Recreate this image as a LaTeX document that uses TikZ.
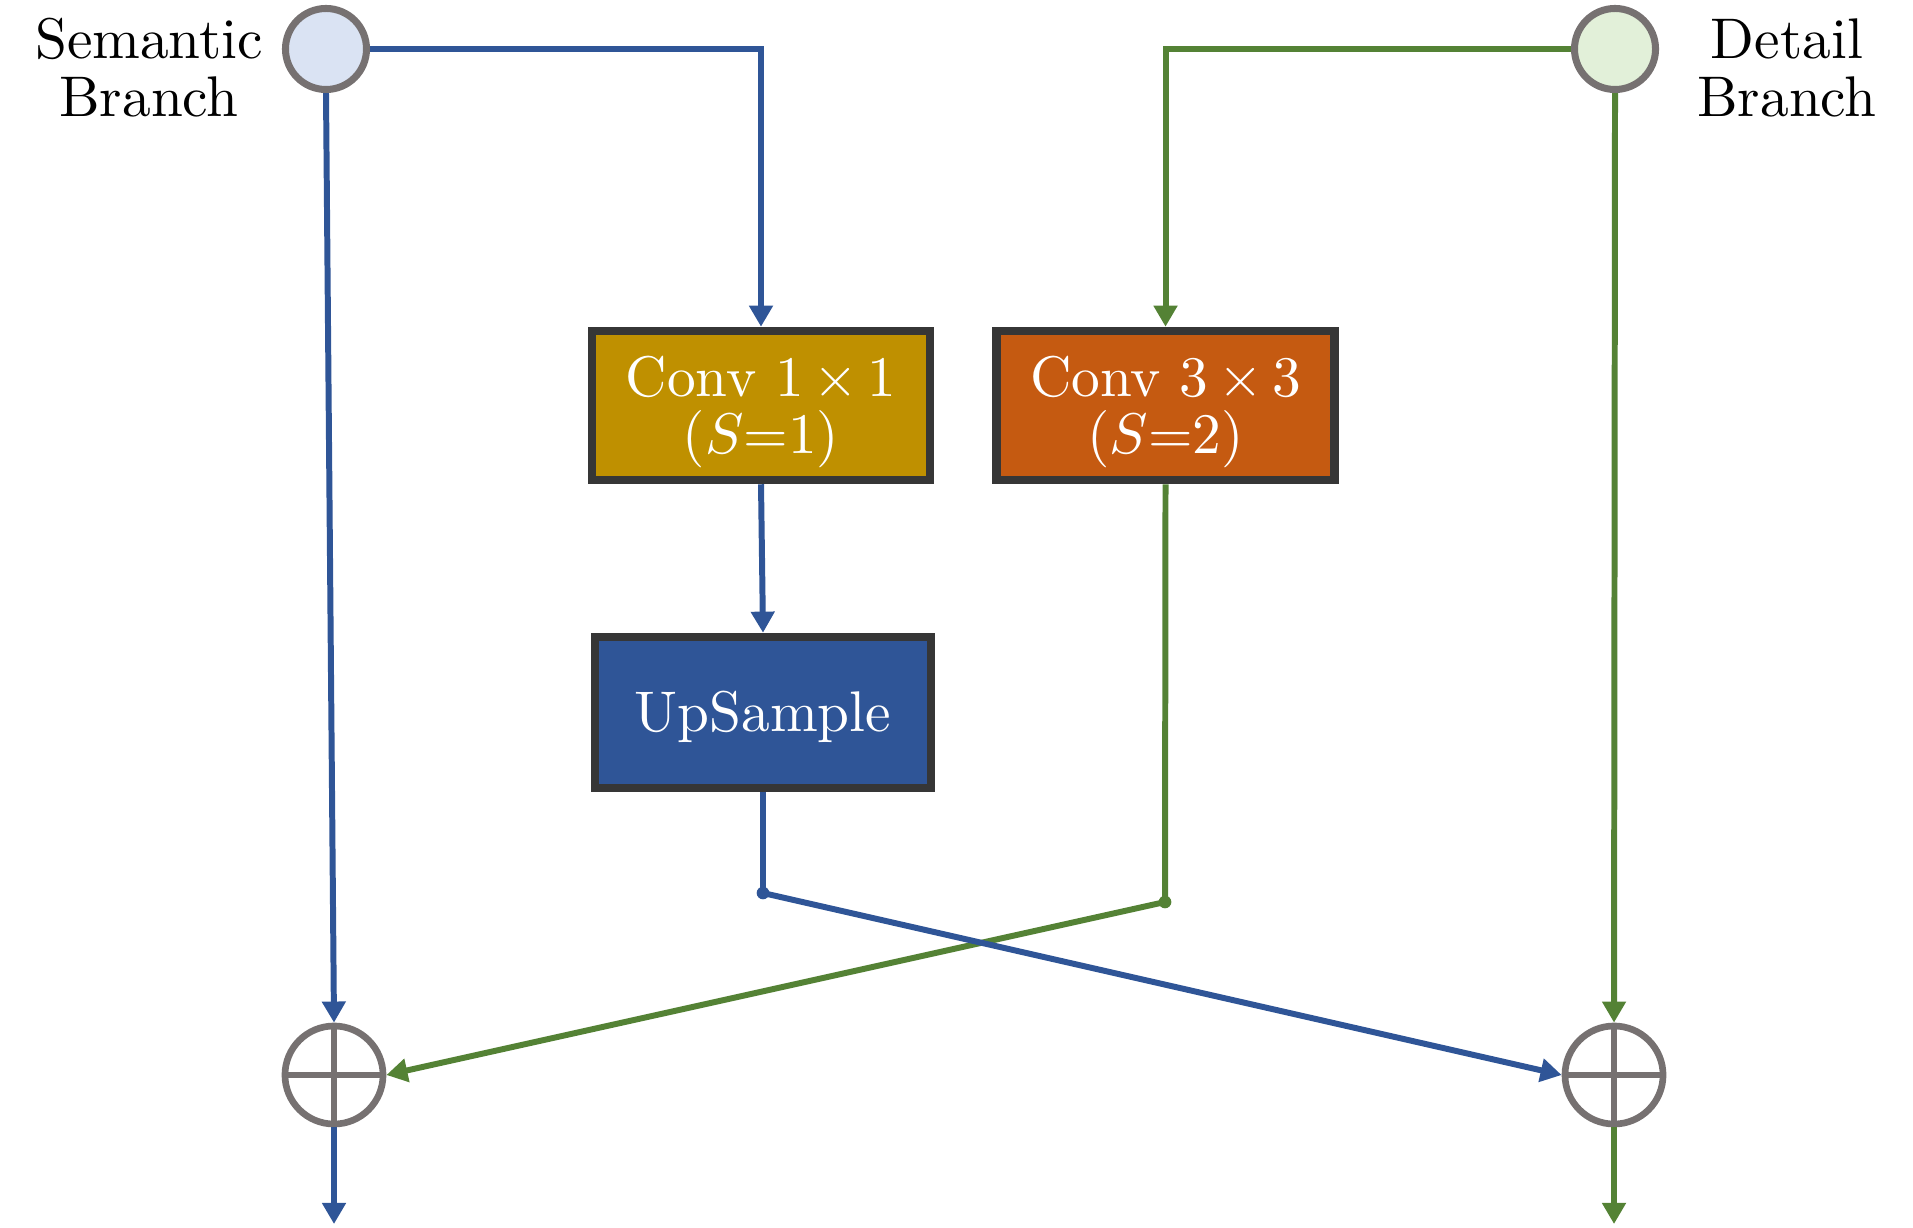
\documentclass[tikz,border=0pt]{standalone}
\usepackage{graphicx}
\usetikzlibrary{arrows.meta}
\definecolor{bl}{HTML}{2F5597}
\definecolor{gr}{HTML}{548235}
\definecolor{ring}{HTML}{767171}
\definecolor{edge}{HTML}{363636}
\definecolor{gold}{HTML}{BF9000}
\definecolor{rust}{HTML}{C55A11}
\definecolor{semfill}{HTML}{DAE3F3}
\definecolor{detfill}{HTML}{E2F0D9}
\newcommand{\bigtxt}[1]{\scalebox{1.63}{\begin{tabular}{@{}c@{}}#1\end{tabular}}}
\newcommand{\boxtxt}[1]{\raisebox{-1.5pt}[\height][\depth]{\bigtxt{#1}}}
\tikzset{
  tip/.style={-{Triangle[width=6.5pt,length=6pt]}},
  bline/.style={draw=bl,line width=1.7pt},
  gline/.style={draw=gr,line width=1.7pt},
  port/.style={circle,draw=ring,line width=2pt,inner sep=0pt,minimum size=0.81cm},
  plus/.style={circle,draw=ring,line width=1.9pt,inner sep=0pt,minimum size=0.98cm},
  opbox/.style={rectangle,draw=edge,line width=2.4pt,text=white,inner sep=0pt,
    minimum width=3.38cm,minimum height=1.49cm,align=center,
    font=\fontsize{10pt}{12pt}\selectfont},
  lbl/.style={inner sep=0pt,font=\fontsize{10pt}{12pt}\selectfont},
  dot/.style={circle,inner sep=0pt,minimum size=3.6pt}
}
\begin{document}
\begin{tikzpicture}[x=0.01cm,y=-0.01cm]
\useasboundingbox (0,0) rectangle (1913,1228);
% ports
\node[port,fill=semfill] (sem) at (326,49) {};
\node[port,fill=detfill] (det) at (1615,49) {};
\node[lbl] (semlbl) at (149,74) {\bigtxt{Semantic\\[-1.9pt]Branch}};
\node[lbl] (detlbl) at (1787,74) {\bigtxt{Detail\\[-1.9pt]Branch}};
% boxes
\node[opbox,fill=gold] (conv1) at (761,405.5) {\boxtxt{Conv $1\,{\times}\,1$\\[-2.05pt]($S$=1)}};
\node[opbox,fill=rust] (conv3) at (1165.5,405.5) {\boxtxt{Conv $3\,{\times}\,3$\\[-2.05pt]($S$=2)}};
\node[opbox,fill=bl,minimum width=3.36cm,minimum height=1.51cm] (up) at (763,712.5) {\boxtxt{UpSample}};
% adders
\node[plus] (plusL) at (334,1075) {};
\node[plus] (plusR) at (1614,1075) {};
\draw[ring,line width=1.9pt] (plusL.north) -- (plusL.south) (plusL.west) -- (plusL.east);
\draw[ring,line width=1.9pt] (plusR.north) -- (plusR.south) (plusR.west) -- (plusR.east);
% junction dots and outputs
\node[dot,fill=bl] (dB) at (763,893) {};
\node[dot,fill=gr] (dG) at (1165,902) {};
\coordinate (oL) at (334,1224);
\coordinate (oR) at (1614,1224);
% connectors
\draw[bline,tip] (sem.east) -| (conv1.north);
\draw[gline,tip] (det.west) -| (conv3.north);
\draw[bline,tip] (conv1.south) -- (up.north);
\draw[bline] (up.south) -- (dB.center);
\draw[gline] (conv3.south) -- (dG.center);
\draw[gline,tip] (dG.center) -- (plusL.east);
\draw[bline,tip] (dB.center) -- (plusR.west);
\draw[bline,tip] (sem.south) -- (plusL.north);
\draw[gline,tip] (det.south) -- (plusR.north);
\draw[bline,tip] (plusL.south) -- (oL);
\draw[gline,tip] (plusR.south) -- (oR);
\end{tikzpicture}
\end{document}
